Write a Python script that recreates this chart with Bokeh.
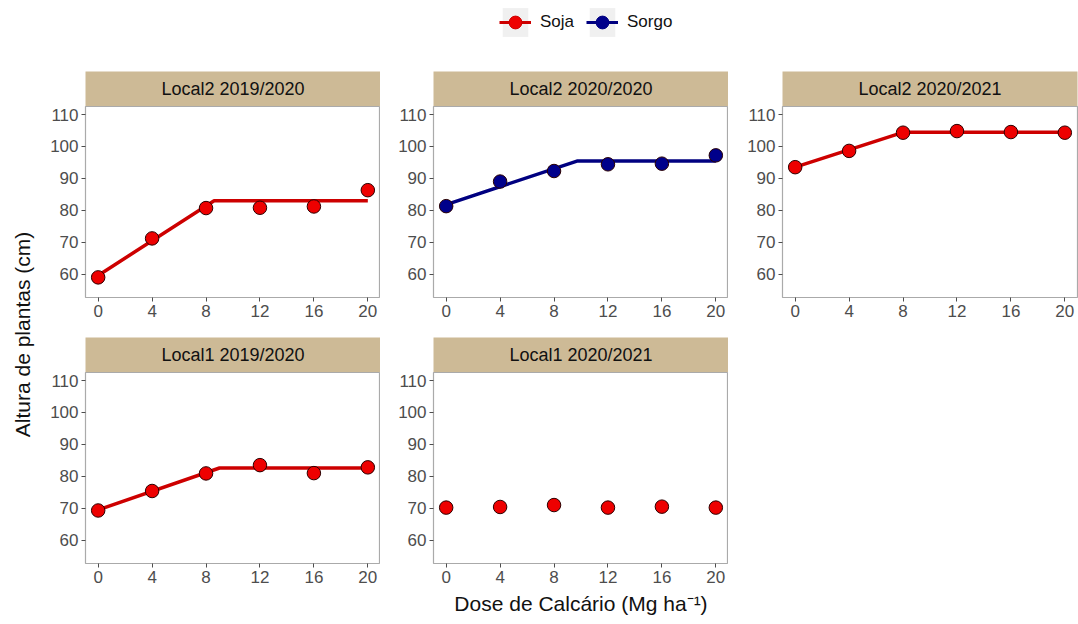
import math
from bokeh.plotting import figure
from bokeh.layouts import row, column
from bokeh.models import (Legend, LegendItem, Range1d, FixedTicker, Label,
                          ColumnDataSource)
from bokeh.embed import file_html
from bokeh.resources import INLINE

# ---------------- data ----------------
doses = [0, 4, 8, 12, 16, 20]
panel_titles = ["Local2 2019/2020", "Local2 2020/2020", "Local2 2020/2021",
                "Local1 2019/2020", "Local1 2020/2021"]
panel_crop = ["Soja", "Sorgo", "Soja", "Soja", "Soja"]
altura_l2_1920 = [59.0, 71.2, 80.7, 80.8, 81.2, 86.3]
altura_l2_2020 = [81.3, 89.0, 92.3, 94.4, 94.6, 97.2]
altura_l2_2021 = [93.5, 98.6, 104.3, 104.8, 104.5, 104.3]
altura_l1_1920 = [69.3, 75.4, 80.9, 83.5, 81.0, 82.8]
altura_l1_2021 = [70.2, 70.4, 71.0, 70.2, 70.5, 70.2]
panel_values = [altura_l2_1920, altura_l2_2020, altura_l2_2021,
                altura_l1_1920, altura_l1_2021]
# linear-plateau fits (intercept, plateau, breakpoint); None = no fit drawn
fit_intercept = [59.6, 81.8, 93.5, 69.5, None]
fit_plateau = [83.0, 95.4, 104.4, 82.6, None]
fit_break = [8.6, 9.7, 8.0, 9.0, None]
y_ticks = [60, 70, 80, 90, 100, 110]
x_ticks = doses
legend_labels = ["Soja", "Sorgo"]

# ---------------- style ----------------
FONT = "Liberation Sans"
point_fill = {"Soja": "#EE0000", "Sorgo": "#00008B"}
line_col = {"Soja": "#CD0000", "Sorgo": "#000080"}
STRIP_FILL = "#CDBA96"
FRAME_W, FRAME_H, STRIP_H = 295, 191, 35
LEFT_B = [50, 53, 54]
RIGHT_B = [0, 0, 1]
ROW_BOTTOM = [40, 61]
LEG_H = 71
YT_W = 35
TOTAL_H = 624

XR = (-0.94, 20.94)
YR = (52.7, 112.5)


def strip_fig(title, col):
    s = figure(width=LEFT_B[col] + FRAME_W + RIGHT_B[col], height=STRIP_H,
               x_range=Range1d(0, 1), y_range=Range1d(0, 1),
               x_axis_type=None, y_axis_type=None,
               toolbar_location=None, output_backend="svg",
               min_border_left=LEFT_B[col], min_border_right=RIGHT_B[col],
               min_border_top=0, min_border_bottom=0,
               background_fill_color=STRIP_FILL, border_fill_color="white",
               outline_line_color=None)
    s.grid.visible = False
    s.add_layout(Label(x=0.5, y=0.5, text=title, text_align="center",
                       text_baseline="middle", text_font=FONT,
                       text_font_size="18px", text_color="#111111"))
    return s


def panel_fig(i, col, rw):
    p = figure(width=LEFT_B[col] + FRAME_W + RIGHT_B[col],
               height=FRAME_H + ROW_BOTTOM[rw],
               x_range=Range1d(*XR), y_range=Range1d(*YR),
               toolbar_location=None, output_backend="svg",
               min_border_left=LEFT_B[col], min_border_right=RIGHT_B[col],
               min_border_top=0, min_border_bottom=ROW_BOTTOM[rw],
               background_fill_color="white", border_fill_color="white",
               outline_line_color="#AAAAAA", outline_line_width=1.2)
    p.grid.visible = False
    for ax in (p.xaxis[0], p.yaxis[0]):
        ax.axis_line_color = None
        ax.major_tick_line_color = "#4D4D4D"
        ax.major_tick_out = 4
        ax.major_tick_in = 0
        ax.minor_tick_line_color = None
        ax.major_label_text_font = FONT
        ax.major_label_text_font_size = "17px"
        ax.major_label_text_color = "#4D4D4D"
        ax.major_label_standoff = 3
    p.xaxis.ticker = FixedTicker(ticks=x_ticks)
    p.yaxis.ticker = FixedTicker(ticks=y_ticks)

    crop = panel_crop[i]
    if fit_intercept[i] is not None:
        xb = fit_break[i]
        fx = [0, xb, doses[-1]]
        fy = [fit_intercept[i], fit_plateau[i], fit_plateau[i]]
        p.line(fx, fy, line_color=line_col[crop], line_width=3.5)
    src = ColumnDataSource(dict(x=doses, y=panel_values[i]))
    p.scatter("x", "y", source=src, marker="circle", size=13.5,
              fill_color=point_fill[crop], line_color="#2A0000", line_width=1)
    return p


strips = [strip_fig(panel_titles[i], i % 3) for i in range(5)]
panels = [panel_fig(i, i % 3, i // 3) for i in range(5)]

xl = panels[4].xaxis[0]
xl.axis_label = "Dose de Calcário (Mg ha⁻¹)"
xl.axis_label_text_font = FONT
xl.axis_label_text_font_size = "21px"
xl.axis_label_text_font_style = "normal"
xl.axis_label_text_color = "#111111"
xl.axis_label_standoff = 6

# ---------------- y title ----------------
grid_h = TOTAL_H - LEG_H
yt = figure(width=YT_W, height=grid_h, x_range=Range1d(0, 1),
            y_range=Range1d(0, 1), x_axis_type=None, y_axis_type=None,
            toolbar_location=None, output_backend="svg",
            min_border=0, outline_line_color=None)
yt.grid.visible = False
yt.add_layout(Label(x=22, y=grid_h - 263, x_units="screen", y_units="screen",
                    text="Altura de plantas (cm)", angle=math.pi / 2,
                    text_align="center", text_baseline="middle",
                    text_font=FONT, text_font_size="21px",
                    text_color="#111111"))

# ---------------- legend ----------------
lg = figure(width=1078, height=LEG_H, x_range=Range1d(0, 1),
            y_range=Range1d(0, 1), x_axis_type=None, y_axis_type=None,
            toolbar_location=None, output_backend="svg",
            min_border=0, outline_line_color=None)
lg.grid.visible = False
nan = float("nan")
items = []
for crop in legend_labels:
    key_src = ColumnDataSource(dict(x=[nan], y=[nan], l=[nan], r=[nan],
                                    b=[nan], t=[nan]))
    qr = lg.quad(left="l", right="r", bottom="b", top="t", source=key_src,
                 fill_color="#F0F0F0", line_color=None)
    lr = lg.line("x", "y", source=key_src, line_color=line_col[crop],
                 line_width=3.2)
    sr = lg.scatter("x", "y", source=key_src, marker="circle",
                    fill_color=point_fill[crop], line_color=line_col[crop],
                    line_width=1)
    items.append(LegendItem(label=crop, renderers=[qr, lr, sr], index=0))
leg = Legend(items=items, orientation="horizontal", location=(499, 31),
             glyph_width=32, glyph_height=36, label_standoff=9, spacing=12,
             padding=0, margin=0, border_line_color=None,
             background_fill_color=None, background_fill_alpha=0,
             label_text_font=FONT, label_text_font_size="17px",
             label_text_color="#111111")
lg.add_layout(leg, "center")

grid = column(row(*strips[:3]), row(*panels[:3]),
              row(*strips[3:]), row(*panels[3:]))
root = column(lg, row(yt, grid))

open("out.html", "w").write(file_html(root, INLINE))
